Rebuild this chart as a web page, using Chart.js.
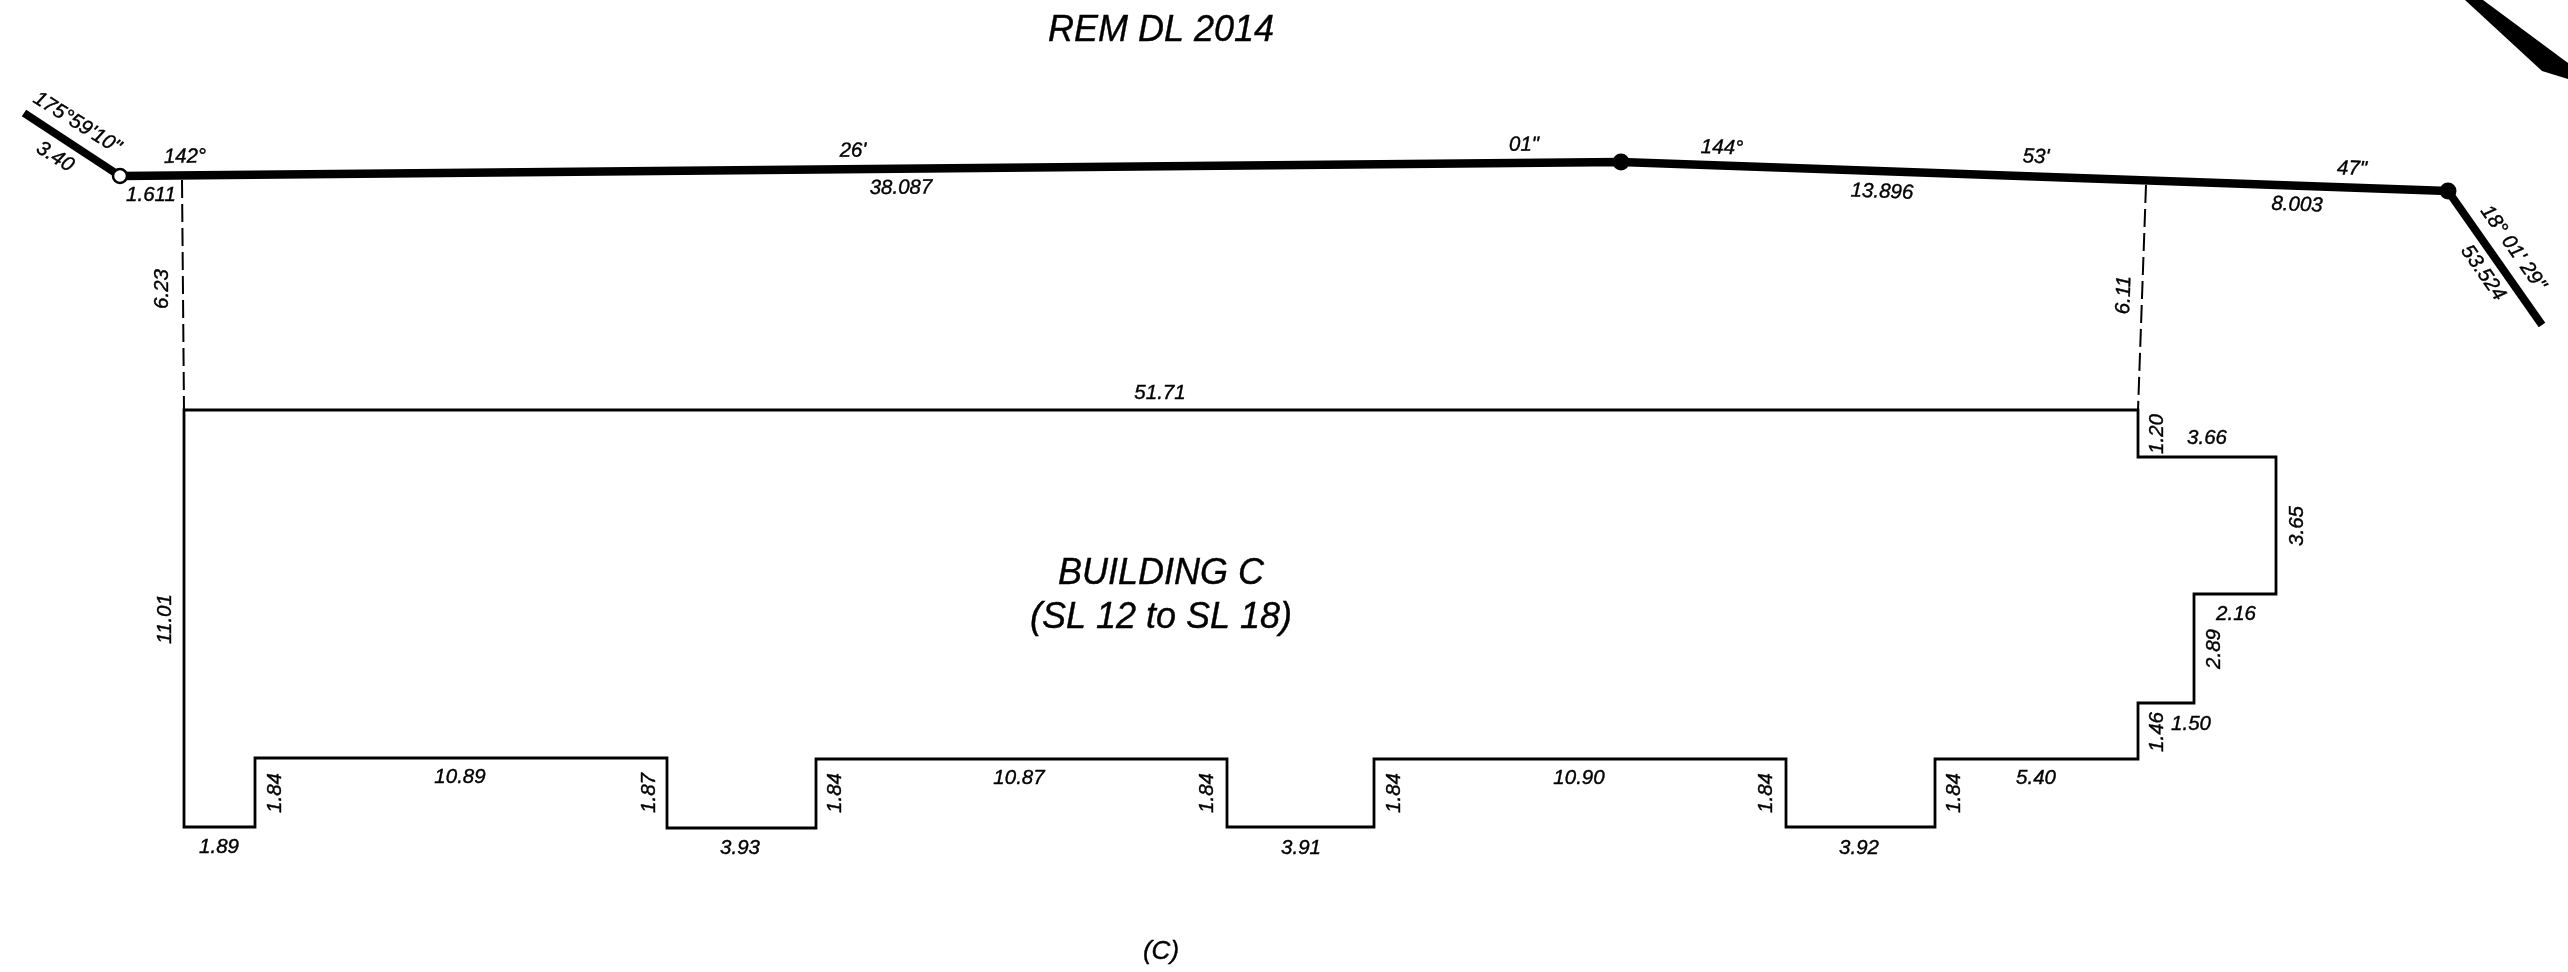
<!DOCTYPE html>
<html>
<head>
<meta charset="utf-8">
<title>Building C</title>
<script src="https://cdn.jsdelivr.net/npm/chart.js@4/dist/chart.umd.js"></script>
<style>
    html, body { margin: 0; padding: 0; background: #fff; }
    canvas { display: block; }
</style>
</head>
<body>
<canvas id="plan" width="2568" height="972"></canvas>
<script>
/* Survey plan. Axis units are the sheet's own units. */

// thick lot boundary
const boundaryX = [120, 1621, 2448];
const boundaryY = [176, 162, 191];
const westLegX = [24, 120];
const westLegY = [113, 176];
const eastLegX = [2448, 2542];
const eastLegY = [191, 325];

// lot corners
const openCornerX = [120];
const openCornerY = [176];
const solidCornerX = [1621, 2448];
const solidCornerY = [162, 191];

// wedge in the top right corner
const wedgeUpperX = [2465, 2483, 2568];
const wedgeUpperY = [0, 0, 63];
const wedgeLowerX = [2465, 2542, 2568];
const wedgeLowerY = [0, 71, 79];

// dashed offsets from boundary to building
const offsetWestX = [182, 184];
const offsetWestY = [180, 410];
const offsetEastX = [2146, 2138];
const offsetEastY = [185, 410];

// building outline
const buildingX = [184, 2138, 2138, 2276, 2276, 2194, 2194, 2138, 2138, 1935, 1935, 1786, 1786, 1374, 1374, 1227, 1227, 816, 816, 667, 667, 255, 255, 184, 184];
const buildingY = [410, 410, 457, 457, 594, 594, 703, 703, 759, 759, 827, 827, 759, 759, 827, 827, 759, 759, 828, 828, 758, 758, 827, 827, 410];

// dimension labels
const labelTexts = ['175°59\'10"', '3.40', '142°', '1.611', '6.23', '26\'', '38.087', '01"', '144°', '13.896', '53\'', '47"', '8.003', '6.11', '18° 01\' 29"', '53.524', '51.71', '1.20', '3.66', '3.65', '2.16', '2.89', '1.46', '1.50', '5.40', '3.92', '1.84', '1.84', '10.90', '1.84', '1.84', '10.87', '3.91', '1.84', '1.87', '10.89', '1.84', '1.89', '3.93', '11.01'];
const labelX = [77, 55, 185, 151, 162, 853, 901, 1524, 1722, 1882, 2036, 2352, 2297, 2124, 2513, 2483, 1160, 2157, 2207, 2297, 2236, 2214, 2157, 2191, 2036, 1859, 1954, 1766, 1579, 1394, 1207, 1019, 1301, 835, 649, 460, 275, 219, 740, 165];
const labelY = [123, 157, 157, 195, 289, 151, 188, 145, 148, 192, 157, 169, 205, 295, 248, 273, 393, 434, 438, 526, 614, 649, 732, 724, 778, 848, 793, 793, 778, 793, 793, 778, 848, 793, 793, 777, 793, 847, 848, 619];
const labelAngles = [32, 32, -1, 0, -90, -0.5, -0.5, -0.5, 2, 2, 2, 2, 2, -88, 55, 55, 0, -90, 0, -90, 0, -90, -90, 0, 0, 0, -90, -90, 0, -90, -90, 0, 0, -90, -90, 0, -90, 0, 0, -90];

// big headings
const headingTexts = ['REM DL 2014', 'BUILDING C', '(SL 12 to SL 18)'];
const headingX = [1161, 1161, 1161];
const headingY = [31, 574, 618];
const captionText = '(C)';
const captionX = 1161;
const captionY = 952;

const FONT = '"Liberation Sans", Arial, sans-serif';

function toPoints(xs, ys) {
    return xs.map((x, i) => ({ x, y: ys[i] }));
}

function lineSet(xs, ys, width, extra) {
    return Object.assign({
        data: toPoints(xs, ys),
        showLine: true,
        tension: 0,
        pointRadius: 0,
        borderColor: '#000',
        borderWidth: width,
        borderCapStyle: 'butt',
        borderJoinStyle: 'miter',
        fill: false
    }, extra);
}

// texts go through the scales like everything else
const planLabels = {
    id: 'planLabels',
    afterDatasetsDraw(chart) {
        const { ctx, scales } = chart;

        const put = (text, x, y, angle, size) => {
            ctx.save();
            ctx.translate(scales.x.getPixelForValue(x), scales.y.getPixelForValue(y));
            ctx.rotate(angle * Math.PI / 180);
            ctx.font = `italic ${size}px ${FONT}`;
            ctx.fillStyle = '#000';
            ctx.strokeStyle = '#000';
            ctx.lineWidth = 0.4; // the original lettering is a bit heavier
            ctx.textAlign = 'center';
            ctx.textBaseline = 'middle';
            ctx.fillText(text, 0, 0);
            ctx.strokeText(text, 0, 0);
            ctx.restore();
        };

        labelTexts.forEach((text, i) => put(text, labelX[i], labelY[i], labelAngles[i], 20.5));
        headingTexts.forEach((text, i) => put(text, headingX[i], headingY[i], 0, 36));
        put(captionText, captionX, captionY, 0, 26);
    }
};

new Chart(document.getElementById('plan'), {
    type: 'scatter',
    data: {
        // first dataset ends up on top
        datasets: [
            {
                data: toPoints(openCornerX, openCornerY),
                pointRadius: 7,
                pointBackgroundColor: '#fff',
                pointBorderColor: '#000',
                pointBorderWidth: 2.5
            },
            {
                data: toPoints(solidCornerX, solidCornerY),
                pointRadius: 8.5,
                pointBackgroundColor: '#000',
                pointBorderWidth: 0
            },
            lineSet(boundaryX, boundaryY, 8.5),
            lineSet(westLegX, westLegY, 8),
            lineSet(eastLegX, eastLegY, 8),
            lineSet(offsetWestX, offsetWestY, 2, { borderDash: [18, 6] }),
            lineSet(offsetEastX, offsetEastY, 2, { borderDash: [18, 6] }),
            lineSet(buildingX, buildingY, 2.8, { borderCapStyle: 'square' }),
            lineSet(wedgeUpperX, wedgeUpperY, 0, { fill: '+1', backgroundColor: '#000' }),
            lineSet(wedgeLowerX, wedgeLowerY, 0)
        ]
    },
    options: {
        responsive: false,
        animation: false,
        layout: { padding: 0, autoPadding: false },
        plugins: {
            legend: { display: false },
            title: { display: false },
            tooltip: { enabled: false }
        },
        scales: {
            x: { type: 'linear', display: false, min: 0, max: 2568 },
            y: { type: 'linear', display: false, min: 0, max: 972, reverse: true }
        }
    },
    plugins: [planLabels]
});
</script>
</body>
</html>
